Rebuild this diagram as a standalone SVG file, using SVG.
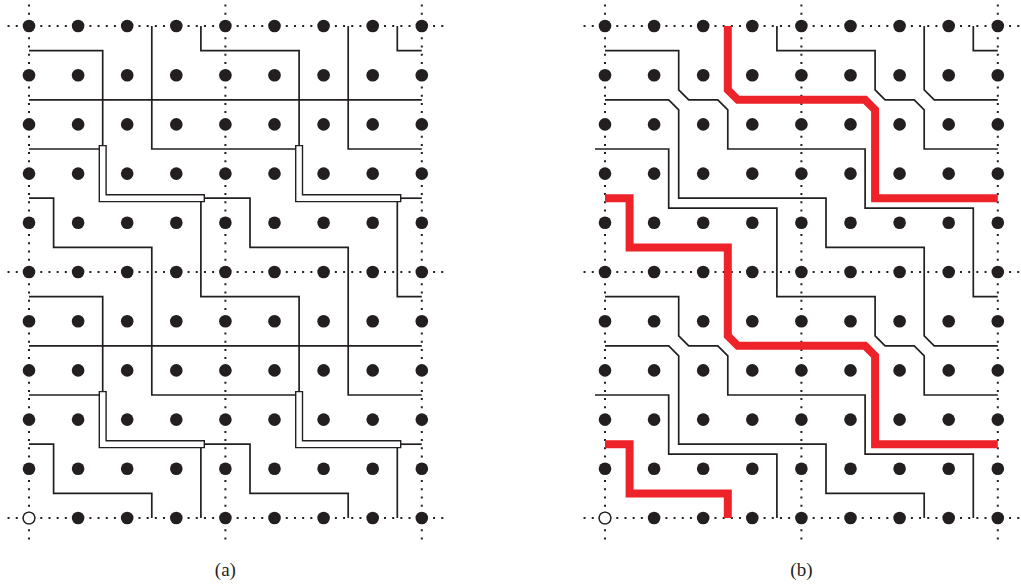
<svg xmlns="http://www.w3.org/2000/svg" width="1021" height="584" viewBox="0 0 1021 584">
<style>
.dh{fill:none;stroke:#231F20;stroke-width:2;stroke-dasharray:2 6.1833}
.dv{fill:none;stroke:#231F20;stroke-width:2;stroke-dasharray:2 6.2}
.ln{fill:none;stroke:#231F20;stroke-width:1.7;stroke-linejoin:miter}
.bo{fill:none;stroke:#231F20;stroke-width:8.2;stroke-linecap:square;stroke-linejoin:miter}
.bi{fill:none;stroke:#fff;stroke-width:5.4;stroke-linecap:square;stroke-linejoin:miter}
.rd{fill:none;stroke:#EE2229;stroke-width:8;stroke-linejoin:miter}
.dot{fill:#231F20}
.open{fill:#fff;stroke:#231F20;stroke-width:1.4}
.lbl{font-family:"Liberation Serif","Times New Roman",serif;font-size:19px;fill:#231F20;text-anchor:middle}
</style>
<defs>
<g id="row" class="dot">
<circle cx="29" cy="0" r="6.3"/><circle cx="78.1" cy="0" r="6.3"/><circle cx="127.2" cy="0" r="6.3"/><circle cx="176.3" cy="0" r="6.3"/><circle cx="225.4" cy="0" r="6.3"/><circle cx="274.5" cy="0" r="6.3"/><circle cx="323.6" cy="0" r="6.3"/><circle cx="372.7" cy="0" r="6.3"/><circle cx="421.8" cy="0" r="6.3"/>
</g>
<g id="grid">
<path class="dh" d="M7.55 26H443.5"/>
<path class="dh" d="M7.55 272H443.5"/>
<path class="dh" d="M7.55 518H443.5"/>
<path class="dv" d="M29 4.5V540"/>
<path class="dv" d="M225.4 4.5V540"/>
<path class="dv" d="M421.8 4.5V540"/>
<use href="#row" y="26"/><use href="#row" y="75.2"/><use href="#row" y="124.4"/><use href="#row" y="173.6"/><use href="#row" y="222.8"/><use href="#row" y="272"/><use href="#row" y="321.2"/><use href="#row" y="370.4"/><use href="#row" y="419.6"/><use href="#row" y="468.8"/><use href="#row" y="518"/>
<circle class="open" cx="29" cy="518" r="5.9"/>
</g>
</defs>

<g id="panel-a">
<use href="#grid"/>
<g id="connectors-a" class="ln">
<path d="M29 99.8H421.8"/>
<path d="M29 345.8H421.8"/>
<path d="M200.9 198.2H250V247.4H348.2V395H421.8"/>
<path d="M29 198.2H53.6V247.4H151.8V395H299.1"/>
<path d="M397.3 198.2H421.8"/>
<path d="M29 395H102.7"/>
<path d="M348.2 26V149H421.8"/>
<path d="M151.8 26V149H299.1"/>
<path d="M29 149H102.7"/>
<path d="M200.9 444.2H250V493.4H348.2V518"/>
<path d="M29 444.2H53.6V493.4H151.8V518"/>
<path d="M397.3 444.2H421.8"/>
<path d="M200.9 198.2V296.6H299.1V395"/>
<path d="M29 296.6H102.7V395"/>
<path d="M397.3 198.2V296.6H421.8"/>
<path d="M200.9 26V50.6H299.1V149"/>
<path d="M29 50.6H102.7V149"/>
<path d="M397.3 26V50.6H421.8"/>
<path d="M200.9 444.2V518"/>
<path d="M397.3 444.2V518"/>
</g>
<g id="bars-a">
<path class="bo" d="M102.7 149V198.2H200.9"/><path class="bi" d="M102.7 149V198.2H200.9"/>
<path class="bo" d="M299.1 149V198.2H397.3"/><path class="bi" d="M299.1 149V198.2H397.3"/>
<path class="bo" d="M102.7 395V444.2H200.9"/><path class="bi" d="M102.7 395V444.2H200.9"/>
<path class="bo" d="M299.1 395V444.2H397.3"/><path class="bi" d="M299.1 395V444.2H397.3"/>
</g>
<text class="lbl" x="225.4" y="576">(a)</text>
</g>

<g id="panel-b" transform="translate(576 0)">
<use href="#grid"/>
<g id="connectors-b" class="ln">
<path d="M29 50.6H102.7V89.8L112.7 99.8H141.8L151.8 109.8V149H289.1V208.2H397.3V296.6H421.8"/>
<path d="M29 99.8H92.7L102.7 109.8V198.2H250V247.4H348.2V335.8L358.2 345.8H421.8"/>
<path d="M19 149H92.7V208.2H200.9V296.6H299.1V335.8L309.1 345.8H338.2L348.2 355.8V395H421.8"/>
<path d="M200.9 26V50.6H299.1V89.8L309.1 99.8H338.2L348.2 109.8V149H421.8"/>
<path d="M348.2 26V89.8L358.2 99.8H421.8"/>
<path d="M397.3 26V50.6H421.8"/>
<path d="M29 296.6H102.7V335.8L112.7 345.8H141.8L151.8 355.8V395H289.1V454.2H397.3V518"/>
<path d="M29 345.8H92.7L102.7 355.8V444.2H250V493.4H348.2V518"/>
<path d="M19 395H92.7V454.2H200.9V518"/>
</g>
<g id="red-paths" class="rd">
<path d="M151.8 26V89.8L161.8 99.8H289.1L299.1 109.8V198.2H421.8"/>
<path d="M29 198.2H53.6V247.4H151.8V335.8L161.8 345.8H289.1L299.1 355.8V444.2H421.8"/>
<path d="M29 444.2H53.6V493.4H151.8V518"/>
</g>
<text class="lbl" x="225.4" y="576">(b)</text>
</g>
</svg>
